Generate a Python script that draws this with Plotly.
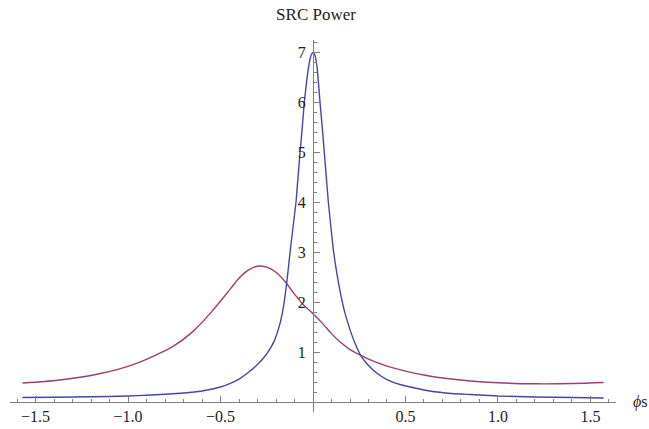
import plotly.graph_objects as go

# Blue curve samples (phi_s, power)
blue_phi = [-1.571, -1.4, -1.2, -1.0, -0.9, -0.8, -0.7, -0.6, -0.55, -0.5, -0.45, -0.40, -0.35,
            -0.30, -0.27, -0.24, -0.21, -0.18, -0.16, -0.14, -0.124, -0.108, -0.092, -0.081,
            -0.070, -0.058, -0.047, -0.035, -0.022, -0.01, 0.0, 0.01, 0.022, 0.038, 0.05,
            0.061, 0.072, 0.083, 0.097, 0.110, 0.13, 0.15, 0.17, 0.2, 0.23, 0.26, 0.3, 0.344,
            0.4, 0.47, 0.55, 0.63, 0.75, 0.85, 1.0, 1.2, 1.4, 1.571]
blue_val = [0.09, 0.095, 0.105, 0.12, 0.135, 0.155, 0.18, 0.22, 0.255, 0.30, 0.37, 0.46, 0.59,
            0.75, 0.87, 1.02, 1.22, 1.55, 1.90, 2.45, 3.0, 3.5, 4.0, 4.5,
            5.0, 5.5, 6.0, 6.4, 6.75, 6.95, 7.0, 6.95, 6.7, 6.0, 5.5,
            5.0, 4.5, 4.0, 3.5, 3.05, 2.55, 2.15, 1.82, 1.45, 1.15, 0.92, 0.73, 0.58,
            0.45, 0.35, 0.28, 0.22, 0.17, 0.15, 0.12, 0.10, 0.09, 0.08]

# Red curve samples
red_phi = [-1.571, -1.45, -1.35, -1.25, -1.15, -1.05, -0.95, -0.85, -0.75, -0.65, -0.55,
           -0.45, -0.40, -0.35, -0.30, -0.25, -0.20, -0.15, -0.10, -0.05, 0.0, 0.05, 0.10,
           0.15, 0.20, 0.25, 0.30, 0.40, 0.50, 0.60, 0.70, 0.85, 1.0, 1.2, 1.4, 1.571]
red_val = [0.38, 0.41, 0.45, 0.50, 0.57, 0.66, 0.78, 0.94, 1.13, 1.41, 1.80,
           2.25, 2.48, 2.64, 2.72, 2.70, 2.60, 2.41, 2.16, 1.94, 1.77, 1.58, 1.37,
           1.19, 1.05, 0.95, 0.86, 0.72, 0.62, 0.54, 0.48, 0.42, 0.385, 0.365, 0.37, 0.39]

x_tickvals = [-1.5, -1.0, -0.5, 0.5, 1.0, 1.5]
x_ticktext = ["\u22121.5", "\u22121.0", "\u22120.5", "0.5", "1.0", "1.5"]
y_tickvals = [1, 2, 3, 4, 5, 6, 7]
y_ticktext = ["1", "2", "3", "4", "5", "6", "7"]

XR = [-1.638, 1.638]
YR = [-0.2, 7.25]

fig = go.Figure()
fig.add_trace(go.Scatter(x=red_phi, y=red_val, mode="lines", line_shape="spline",
                         line=dict(color="rgb(160,60,115)", width=1.4, smoothing=1.0),
                         showlegend=False))
fig.add_trace(go.Scatter(x=blue_phi, y=blue_val, mode="lines", line_shape="spline",
                         line=dict(color="rgb(70,70,170)", width=1.4, smoothing=0.5),
                         showlegend=False))

serif = "Liberation Serif, Times New Roman, serif"
font = dict(family=serif, size=16, color="#222")
axcol = "#808080"
fig.update_layout(
    width=649, height=429,
    margin=dict(l=10, r=33, t=40, b=17, autoexpand=False),
    paper_bgcolor="white", plot_bgcolor="white",
    font=font,
    title=dict(text="SRC Power", x=0.505, xref="paper", xanchor="center",
               y=1 - 14 / 429, yanchor="middle", font=dict(size=17, color="#222", family=serif)),
    xaxis=dict(range=XR, showgrid=False, zeroline=False, showline=True, linecolor=axcol,
               linewidth=1, anchor="free", position=(0 - YR[0]) / (YR[1] - YR[0]),
               automargin=False,
               tickmode="array", tickvals=x_tickvals, ticktext=x_ticktext,
               ticks="inside", ticklen=6, tickcolor=axcol, tickwidth=1,
               minor=dict(tickmode="linear", tick0=0, dtick=0.1, ticks="inside",
                          ticklen=3, tickcolor=axcol, tickwidth=1, showgrid=False),
               tickfont=font, fixedrange=True),
    yaxis=dict(range=YR, showgrid=False, zeroline=False, showline=True, linecolor=axcol,
               linewidth=1, anchor="free", position=(0 - XR[0]) / (XR[1] - XR[0]),
               automargin=False, ticklabelstandoff=4,
               tickmode="array", tickvals=y_tickvals, ticktext=y_ticktext,
               ticks="inside", ticklen=6, tickcolor=axcol, tickwidth=1,
               minor=dict(tickmode="linear", tick0=0, dtick=0.2, ticks="inside",
                          ticklen=3, tickcolor=axcol, tickwidth=1, showgrid=False),
               tickfont=font, fixedrange=True),
    annotations=[dict(text="<i>\u03d5</i>s", xref="paper", x=1.025, xanchor="left",
                      yref="y", y=0, yanchor="middle", showarrow=False,
                      font=dict(family=serif, size=16, color="#222"))],
)

fig.write_html("out.html", config={"displayModeBar": False},
               post_script="document.body.style.margin='0';")
